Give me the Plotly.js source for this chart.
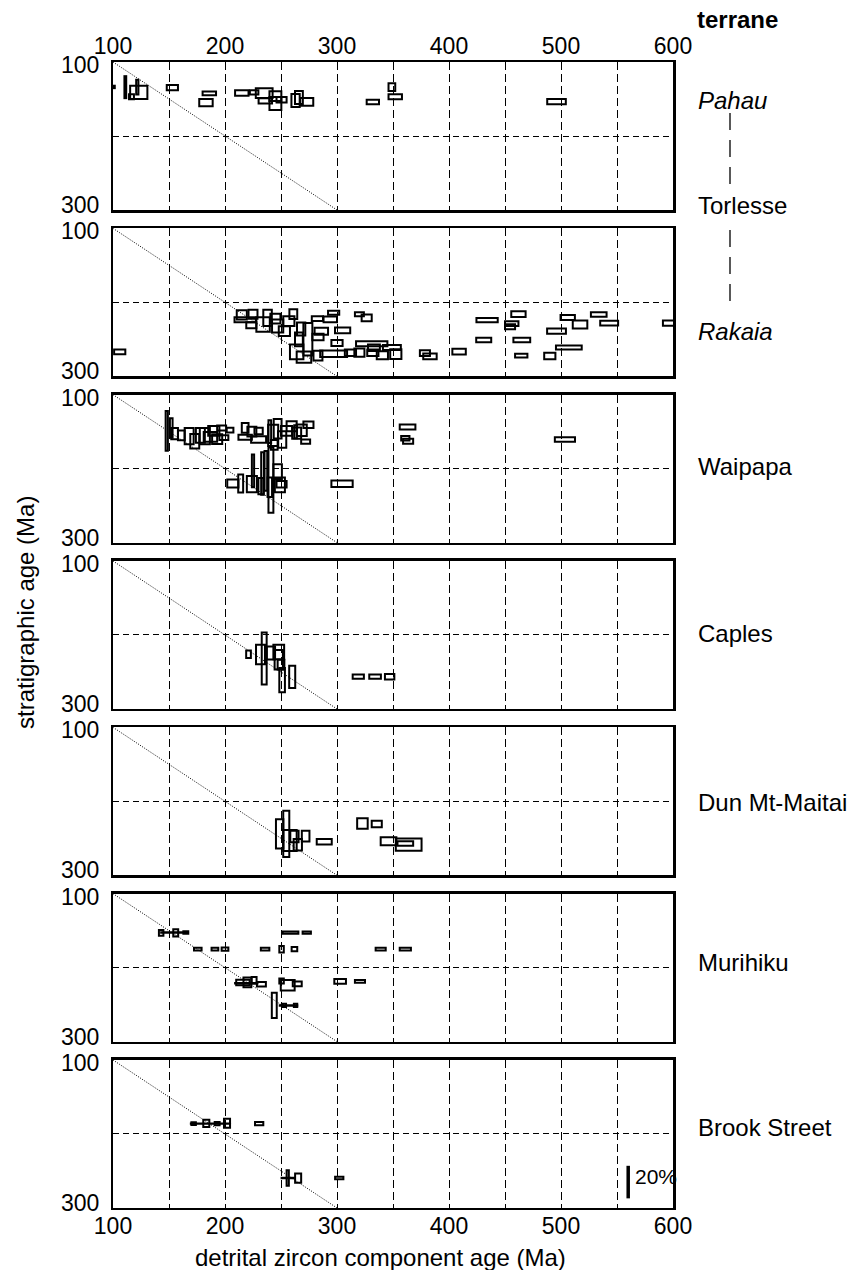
<!DOCTYPE html>
<html><head><meta charset="utf-8">
<script src="https://cdn.plot.ly/plotly-3.0.1.min.js"></script>
<style>body{margin:0;background:#fff}#chart{width:849px;height:1270px}</style>
</head><body><div id="chart"></div>
<script>
// ---------- DATA ----------
const terranes = ['Pahau','Rakaia','Waipapa','Caples','Dun Mt-Maitai','Murihiku','Brook Street'];
const xTickVals = [100,150,200,250,300,350,400,450,500,550,600];
const xTickText = ['100','','200','','300','','400','','500','','600'];
const yTickVals = [100,200,300];
const yTickText = ['100','','300'];
const scaleBarPct = 20;          // scale bar: 20 %
const scaleBarAge = 560;         // x position of the scale bar (Ma)
const scaleBarStrat = 265;       // centre of the scale bar (Ma)

// each component: age (Ma), age half-width (Ma), stratigraphic age (Ma), proportion (%)
const pahauAge   = [111,101,123,116.5,121.7,153,186,183,215,226,235,245,245,236,250.5,263,266,273,332,349,352,496];
const pahauErr   = [0.8,0.6,7.7,2.2,1,5,6,6,6,3.8,7.5,5.3,5.3,6,4.5,3.7,3.5,5.8,5.5,3,6,8.3];
const pahauStrat = [134,133.7,141,147,134,134.5,142.5,155,142,141,142,146,156,152.5,151,152,148,154,154,134,147,153.5];
const pahauPct   = [13.5,1.5,8.2,3,9,3.2,2.3,4.5,3.4,2.7,6,6,8,3.2,3.5,8,8,4.8,2.7,4.7,3,3.2];

const rakaiaAge   = [106,215,218,225,223.5,234,238,245,247,253,257,261,268,266,274,264,270.5,282.5,286,283,283,294,297,305,300,331,297,312,320,333,332,340.5,349,352.5,320,326.5,378.5,383,409,434,431,462,456,454.5,465,464.5,490,496,507,506,517,533.7,543,596];
const rakaiaErr   = [5,4.5,9.5,4,4.5,6,3.8,4.5,5,5,5,3.5,3.7,3.5,4,6,6.5,5,6,5,4,6,5,6.8,5,14,12,5,4.5,5.3,5,5,8,5,4,4.5,4.5,6,6,9.5,6.7,6.4,6,4.5,7.5,5.5,5,8.4,11.5,6.4,6.5,7,8,5];
const rakaiaStrat = [267,217,223.5,216,231,230,221,222,232,239,225.5,216,236,250,250,267,274,222,239,247,272,223,214,238,255,256,269.5,268,268,261.5,268,271.5,261,270,216,221,268.6,273,266.5,224,251,216,228.7,233,251,272,272.5,239,261,220.5,230,216.5,228,228];
const rakaiaPct   = [3,5.7,3,5.5,3.6,9,10,6,8,6,6,6,8,8.5,20,9,7,3,4.3,4,6,3.6,2.4,3.5,3.6,3,4,4,5,4,4,5,3,6,2.5,4,3.6,3.6,3.5,2.7,2.7,3.6,3,3,2.7,2.4,4,3.2,2.4,3.2,5,2.8,2.9,3.2];

const waipapaAge   = [148,152,155,161,168,173,178,182,187,190,193,197,199,204.5,218,218,224,230,230,240,243,247,244,251,255,259.5,264,263,268.5,274.5,272,207,214,224,225,232,233.5,236.5,240,241,247,249,250.5,304.5,363,361,363.5,503.5];
const waipapaErr   = [1,1.2,3,3,4,4,4,4.5,6,5,4.5,4,4,3,6,3,4,6.7,3.7,1.2,4.5,3.5,3,3.7,5,4.5,4,1.2,4.5,4.5,4,5,2.2,4.5,1,2.2,1.2,1.2,2,2.2,3.8,4.5,4.5,9.5,7,3.7,4.5,9];
const waipapaStrat = [149,145,152.7,155,156,163,155,156,157,149,160,145,158,148,157.5,145,150,160.6,149,150,155,146,168,160.6,149,142.7,152,150,148,140.6,163.5,220,220,221,203,223.5,206.5,203,225,215.5,204,222,221,220.5,143.7,159,163,160.6];
const waipapaPct   = [24.5,12,7,6,10,9,9,10,6,6,6,3,3,3,3,6,6,4,4,14,13,12,6,10,6,6,7,8,7,4,2.7,5,11,10,20,10,26,24.5,12,40,9,9,4,4,3,2.7,3,2.8];

const caplesAge   = [221,231.7,235,241,248,248,250,251,260,319,334,347];
const caplesErr   = [2.1,4,2.2,3.7,4.8,3.7,3,2.5,2.7,5,5.2,4.2];
const caplesStrat = [226,226.5,231.8,224.4,223,233.4,240,261,256.5,256.4,256.4,256.4];
const caplesPct   = [4.7,12,32,8,9,12,6,15,13.7,2.6,2.6,3.5];

const dunMtAge   = [254.7,248.8,258,262,265,272,288.6,322.7,335.5,346,364,361];
const dunMtErr   = [2.7,3.3,6,3.7,3.7,3.4,6.7,4.7,4.5,7,11.5,7];
const dunMtStrat = [244,244,253,247.5,258.7,247,254.6,230,230.6,254,258.4,257];
const dunMtPct   = [28.5,18,13,7,7,6.7,3.5,6.5,4,5,7.5,2.7];

const murihikuAge   = [143,155,156,165,258.5,273,175.7,191,200,235.8,250.5,262,339,361,216,220,226,232.5,219,250.5,256,264.5,302.8,320.5,244,256.7,253,263];
const murihikuErr   = [2,12,2.2,2.2,7,3.7,3.4,3,3,3.8,2,2.5,4.5,5,6,3.5,2.2,4,10,2,6.2,4,5.2,4.5,2.2,7.8,1.5,1.5];
const murihikuStrat = [153,152.5,153,152.5,152.7,152.7,175,175,175,175,175,175,175,175,220,220,217,222.5,221,218,223.7,222,218.5,218.5,251,251,251,251];
const murihikuPct   = [3.5,0.3,4.6,1.6,1.4,1.4,1.6,1.6,2,1.6,4,2.5,1.6,1.6,3.4,6,4,2.7,0.3,3,6.5,3,3,1.6,15.5,0.3,2,2];

const brookAge   = [187,172,183.3,193,201.8,230.5,256,256,265.3,302];
const brookErr   = [17.5,2,2.7,2.2,2.7,3.7,1,5.5,2.7,3.7];
const brookStrat = [186,186,185.7,186,185.6,186,259.5,259.5,259.8,259.5];
const brookPct   = [0.3,1.8,4.5,2,5.5,2,9.5,0.3,5.7,1.6];

// ---------- BUILD ----------
const panels = [
  [pahauAge,pahauErr,pahauStrat,pahauPct],
  [rakaiaAge,rakaiaErr,rakaiaStrat,rakaiaPct],
  [waipapaAge,waipapaErr,waipapaStrat,waipapaPct],
  [caplesAge,caplesErr,caplesStrat,caplesPct],
  [dunMtAge,dunMtErr,dunMtStrat,dunMtPct],
  [murihikuAge,murihikuErr,murihikuStrat,murihikuPct],
  [brookAge,brookErr,brookStrat,brookPct]
];
const maPerPct = 44 / scaleBarPct;   // vertical extent (Ma of strat axis) per percent

const W = 849, Hfig = 1270;
const mL = 113, mR = 176, mT = 62, mB = 62;
const plotH = Hfig - mT - mB;          // 1146
const plotW = W - mL - mR;             // 560
const period = 166.33, panelH = 148;
const pyToPaper = p => (Hfig - mB - p) / plotH;
const pxToPaper = p => (p - mL) / plotW;

const FONT = 'Liberation Sans, Arial, Helvetica, sans-serif';
const layout = {
  width: W, height: Hfig,
  margin: {l: mL, r: mR, t: mT, b: mB},
  paper_bgcolor: '#fff', plot_bgcolor: '#fff',
  showlegend: false,
  font: {family: FONT, size: 23, color: '#000'},
  shapes: [], annotations: []
};
const data = [];
const tickAnn = [];
const labelRows = [100, 331, 467, 633, 802, 963, 1127];
const labelText = ['<i>Pahau</i>','<i>Rakaia</i>','Waipapa','Caples','Dun Mt-Maitai','Murihiku','Brook Street'];

panels.forEach((p, k) => {
  const xs = k === 0 ? '' : String(k + 1);
  const topPx = mT + k * period;
  const yTop = pyToPaper(topPx), yBot = pyToPaper(topPx + panelH);
  layout['xaxis' + xs] = {
    domain: [0, 1], range: [100, 600], anchor: 'y' + xs,
    tickmode: 'array', tickvals: xTickVals, ticktext: xTickText,
    showticklabels: k === 0 || k === 6, side: k === 0 ? 'top' : 'bottom',
    ticks: '', ticklabelstandoff: -4,
    showgrid: true, gridcolor: '#000', gridwidth: 1, griddash: '8px,4px',
    showline: true, mirror: true, linecolor: '#000', linewidth: 2.5,
    zeroline: false, fixedrange: true, tickfont: {size: 23}
  };
  layout['yaxis' + xs] = {
    domain: [yBot, yTop], range: [300, 100], anchor: 'x' + xs,
    tickmode: 'array', tickvals: yTickVals, ticktext: yTickText,
    showticklabels: false, ticks: '',
    showgrid: true, gridcolor: '#000', gridwidth: 1, griddash: '6px,4px',
    showline: true, mirror: true, linecolor: '#000', linewidth: 2.5,
    zeroline: false, fixedrange: true
  };
  // y tick labels (100 / 300), nudged inwards like the reference
  [[yTickVals[0], yTickText[0], -3], [yTickVals[2], yTickText[2], 5]].forEach(([v, t, s]) => {
    tickAnn.push({xref: 'paper', yref: 'y' + xs, x: pxToPaper(101), y: v, yshift: s,
      xanchor: 'right', yanchor: 'middle', showarrow: false, text: t, font: {size: 23}});
  });
  data.push({type: 'scatter', x: [], y: [], xaxis: 'x' + xs, yaxis: 'y' + xs, hoverinfo: 'skip'});
  // 1:1 line
  layout.shapes.push({type: 'line', xref: 'x' + xs, yref: 'y' + xs, x0: 100, y0: 100, x1: 300, y1: 300,
    line: {color: '#000', width: 1, dash: '1px,1.5px'}, layer: 'below'});
  const [age, err, strat, pct] = p;
  age.forEach((a, i) => {
    const h = pct[i] * maPerPct / 2;
    layout.shapes.push({type: 'rect', xref: 'x' + xs, yref: 'y' + xs,
      x0: a - err[i], x1: a + err[i], y0: strat[i] - h, y1: strat[i] + h,
      line: {color: '#000', width: 2}, fillcolor: 'rgba(0,0,0,0)'});
  });
  layout.annotations.push({xref: 'paper', yref: 'paper', x: pxToPaper(696), y: pyToPaper(labelRows[k]),
    xanchor: 'left', yanchor: 'middle', showarrow: false, text: labelText[k], font: {size: 24}});
});
layout.annotations.push(...tickAnn);

layout.annotations.push({xref: 'paper', yref: 'paper', x: pxToPaper(696), y: pyToPaper(205),
  xanchor: 'left', yanchor: 'middle', showarrow: false, text: 'Torlesse', font: {size: 24}});
layout.annotations.push({xref: 'paper', yref: 'paper', x: pxToPaper(737), y: pyToPaper(20),
  xanchor: 'center', yanchor: 'middle', showarrow: false, text: '<b>terrane</b>', font: {size: 24}});
// Torlesse dashed connector
[[113, 184], [230, 309]].forEach(([a, b]) => {
  layout.shapes.push({type: 'line', xref: 'paper', yref: 'paper',
    x0: pxToPaper(730), x1: pxToPaper(730), y0: pyToPaper(a), y1: pyToPaper(b),
    line: {color: '#000', width: 1.3, dash: '17px,10px'}});
});
// axis titles
layout.annotations.push({xref: 'paper', yref: 'paper', x: pxToPaper(380), y: pyToPaper(1257),
  xanchor: 'center', yanchor: 'middle', showarrow: false, text: 'detrital zircon component age (Ma)', font: {size: 24}});
layout.annotations.push({xref: 'paper', yref: 'paper', x: pxToPaper(25), y: pyToPaper(613),
  xanchor: 'center', yanchor: 'middle', showarrow: false, textangle: -90, text: 'stratigraphic age (Ma)', font: {size: 24}});
// scale bar in the last panel
const half = scaleBarPct * maPerPct / 2;
layout.shapes.push({type: 'line', xref: 'x7', yref: 'y7', x0: scaleBarAge, x1: scaleBarAge,
  y0: scaleBarStrat - half, y1: scaleBarStrat + half, line: {color: '#000', width: 3.5}});
layout.annotations.push({xref: 'x7', yref: 'y7', x: scaleBarAge + 4, y: scaleBarStrat - half + 14,
  xanchor: 'left', yanchor: 'middle', showarrow: false, text: scaleBarPct + '%',
  font: {size: 21, family: 'Liberation Sans Narrow, Arial Narrow, Liberation Sans, Arial, sans-serif'}});

Plotly.newPlot('chart', data, layout, {displayModeBar: false, staticPlot: true});
</script>
</body></html>
